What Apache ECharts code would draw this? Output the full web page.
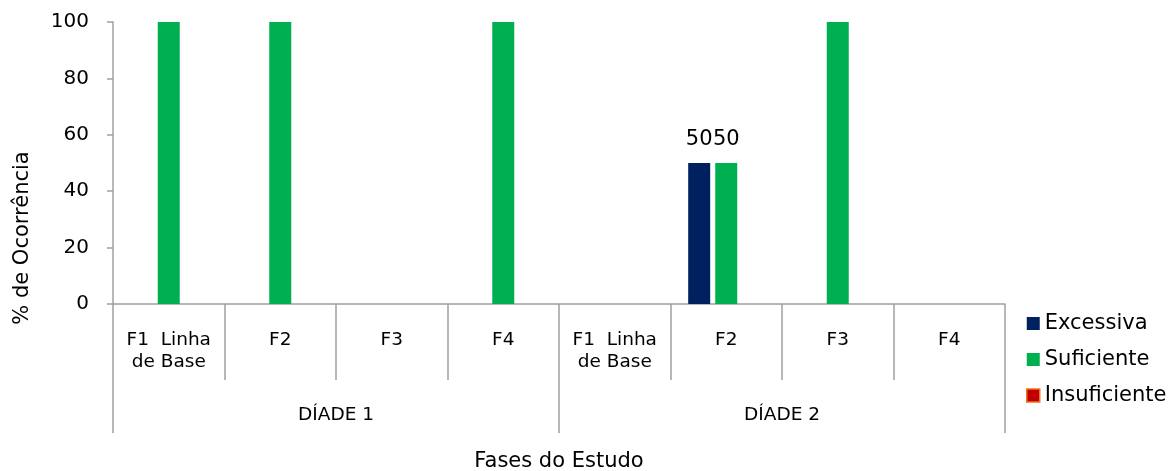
<!DOCTYPE html>
<html>
<head>
<meta charset="utf-8">
<script src="https://cdn.jsdelivr.net/npm/echarts@6/dist/echarts.min.js"></script>
<style>
html, body { margin: 0; padding: 0; background: #fff; }
#chart { width: 1171px; height: 471px; }
</style>
</head>
<body>
<div id="chart"></div>
<script>
// fases (eixo de baixo) e díades (segundo nível)
var fases = ['F1  Linha\nde Base', 'F2', 'F3', 'F4', 'F1  Linha\nde Base', 'F2', 'F3', 'F4'];
var diades = ['DÍADE 1', 'DÍADE 2'];
var excessiva = [0, 0, 0, 0, 0, 50, 0, 0];
var suficiente = [100, 100, 0, 100, 0, 50, 100, 0];
var insuficiente = [0, 0, 0, 0, 0, 0, 0, 0];

var font = 'DejaVu Sans, Verdana, sans-serif';
var cinza = '#a0a0a0';

var chart = echarts.init(document.getElementById('chart'));

function rotulo(p) {
    // só os valores intermédios aparecem no original
    return (p.value > 0 && p.value < 100) ? p.value : '';
}

var option = {
    animation: false,
    textStyle: { fontFamily: font, color: '#000' },
    grid: { left: 113, right: 166, top: 22, bottom: 167, outerBoundsMode: 'none', containLabel: false },
    legend: {
        orient: 'vertical',
        left: 1021,
        top: 308,
        itemWidth: 13,
        itemHeight: 13,
        itemGap: 15,
        icon: 'rect',
        itemStyle: { borderWidth: 0 },
        textStyle: { fontFamily: font, fontSize: 21, color: '#000' },
        data: ['Excessiva', 'Suficiente',
            { name: 'Insuficiente', itemStyle: { color: '#c00000', borderColor: '#f0741e', borderWidth: 1.5 } }]
    },
    xAxis: [
        {
            type: 'category',
            data: fases,
            position: 'bottom',
            axisLine: { show: true, lineStyle: { color: cinza, width: 1.5 } },
            axisTick: { show: true, length: 76, lineStyle: { color: cinza, width: 1.5 } },
            axisLabel: { fontSize: 18.5, color: '#000', lineHeight: 22, margin: 25, interval: 0 }
        },
        {
            type: 'category',
            data: diades,
            position: 'bottom',
            axisLine: { show: false },
            axisTick: { show: true, length: 129, lineStyle: { color: cinza, width: 1.5 } },
            axisLabel: { fontSize: 18.5, color: '#000', margin: 102 },
            name: 'Fases do Estudo',
            nameLocation: 'middle',
            nameGap: 147,
            nameTextStyle: { fontSize: 21, color: '#000' }
        }
    ],
    yAxis: {
        type: 'value',
        min: 0,
        max: 100,
        interval: 20,
        axisLine: { show: true, lineStyle: { color: cinza, width: 1.5 } },
        axisTick: { show: true, length: 6, lineStyle: { color: cinza, width: 1.5 } },
        splitLine: { show: false },
        axisLabel: { fontSize: 20, color: '#000', margin: 24 },
        name: '% de Ocorrência',
        nameLocation: 'middle',
        nameGap: 80,
        // título desce até ao centro da área completa, como no original
        nameTextStyle: { fontSize: 21, color: '#000', padding: [0, 150, 0, 0] }
    },
    series: [
        {
            name: 'Excessiva',
            type: 'bar',
            xAxisIndex: 0,
            data: excessiva,
            barWidth: 22,
            barGap: '23%',
            itemStyle: { color: '#002060' },
            label: { show: true, position: 'top', distance: 13, fontSize: 21, color: '#000', formatter: rotulo }
        },
        {
            name: 'Suficiente',
            type: 'bar',
            xAxisIndex: 0,
            data: suficiente,
            barWidth: 22,
            barGap: '23%',
            itemStyle: { color: '#00b050' },
            label: { show: true, position: 'top', distance: 13, fontSize: 21, color: '#000', formatter: rotulo }
        },
        {
            name: 'Insuficiente',
            type: 'bar',
            xAxisIndex: 0,
            data: insuficiente,
            barWidth: 22,
            barGap: '23%',
            itemStyle: { color: '#c00000' }
        }
    ]
};

chart.setOption(option);
</script>
</body>
</html>
